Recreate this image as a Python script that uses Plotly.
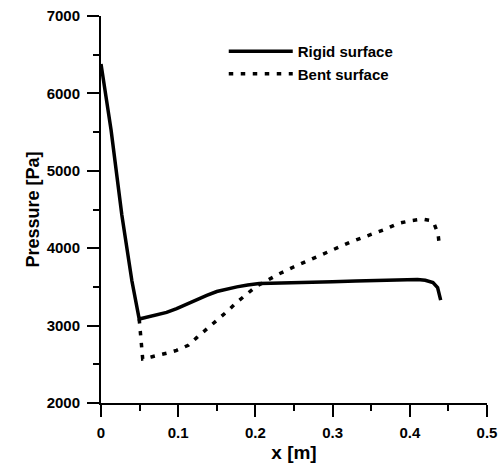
import plotly.graph_objects as go

# Data
rigid_x = [0, 0.013, 0.027, 0.04, 0.0495, 0.06, 0.072, 0.085, 0.098, 0.11, 0.124, 0.137,
           0.15, 0.163, 0.176, 0.19, 0.205, 0.22, 0.245, 0.27, 0.3, 0.33, 0.36, 0.39,
           0.41, 0.42, 0.43, 0.436, 0.44]
rigid_y = [6380, 5530, 4430, 3580, 3085, 3108, 3133, 3170, 3220, 3275, 3337, 3390,
           3440, 3475, 3500, 3525, 3543, 3548, 3557, 3560, 3568, 3575, 3585, 3593,
           3595, 3585, 3555, 3490, 3330]

bent_x = [0.0495, 0.0505, 0.052, 0.054, 0.065, 0.0785, 0.09, 0.098, 0.106, 0.113, 0.124,
          0.137, 0.15, 0.1626, 0.1755, 0.1884, 0.2014, 0.2143, 0.23, 0.25, 0.275, 0.3,
          0.322, 0.345, 0.3674, 0.3846, 0.40, 0.416, 0.425, 0.431, 0.4365, 0.4385]
bent_y = [3085, 2950, 2750, 2570, 2595, 2625, 2655, 2681, 2710, 2746, 2845,
          2952, 3069, 3176, 3298, 3401, 3509, 3578, 3665, 3760, 3867, 3970,
          4074, 4160, 4242, 4319, 4353, 4375, 4360, 4327, 4190, 4026]

x_tickvals = [0, 0.1, 0.2, 0.3, 0.4, 0.5]
x_ticktext = ["0", "0.1", "0.2", "0.3", "0.4", "0.5"]
y_tickvals = [2000, 3000, 4000, 5000, 6000, 7000]
y_ticktext = ["2000", "3000", "4000", "5000", "6000", "7000"]

FONT = "Liberation Sans"

fig = go.Figure()
fig.add_trace(go.Scatter(x=rigid_x, y=rigid_y, mode="lines", name="Rigid surface",
                         line=dict(color="black", width=3.5)))
fig.add_trace(go.Scatter(x=bent_x, y=bent_y, mode="lines", name="Bent surface",
                         line=dict(color="black", width=3.5, dash="4.5px,7.5px")))

axis_common = dict(
    showline=True, linecolor="black", linewidth=2, mirror=False,
    showgrid=False, zeroline=False, automargin=False,
    ticks="outside", ticklen=12, tickwidth=2, tickcolor="black",
    tickfont=dict(family=FONT, size=15, color="black", weight="bold"),
)

fig.update_xaxes(range=[0, 0.5], tickvals=x_tickvals, ticktext=x_ticktext,
                 minor=dict(ticks="outside", ticklen=6, tickwidth=2, tickcolor="black",
                            dtick=0.05, tick0=0, showgrid=False),
                 ticklabelstandoff=3,
                 title=dict(text="x [m]", font=dict(family=FONT, size=19, color="black", weight="bold"),
                            standoff=6),
                 **axis_common)
fig.update_yaxes(range=[2000, 7000], tickvals=y_tickvals, ticktext=y_ticktext,
                 minor=dict(ticks="outside", ticklen=6, tickwidth=2, tickcolor="black",
                            dtick=500, tick0=0, showgrid=False),
                 ticklabelstandoff=4,
                 title=dict(text="Pressure [Pa]", font=dict(family=FONT, size=18, color="black", weight="bold"),
                            standoff=2),
                 **axis_common)

fig.update_layout(
    width=500, height=463,
    margin=dict(l=101, r=13, t=16, b=60),
    plot_bgcolor="white", paper_bgcolor="white",
    showlegend=True,
    legend=dict(x=0.318, y=0.951, xanchor="left", yanchor="top",
                bgcolor="rgba(0,0,0,0)", itemwidth=64,
                font=dict(family=FONT, size=15, color="black", weight="bold"),
                tracegroupgap=0),
)

fig.write_html("out.html")
